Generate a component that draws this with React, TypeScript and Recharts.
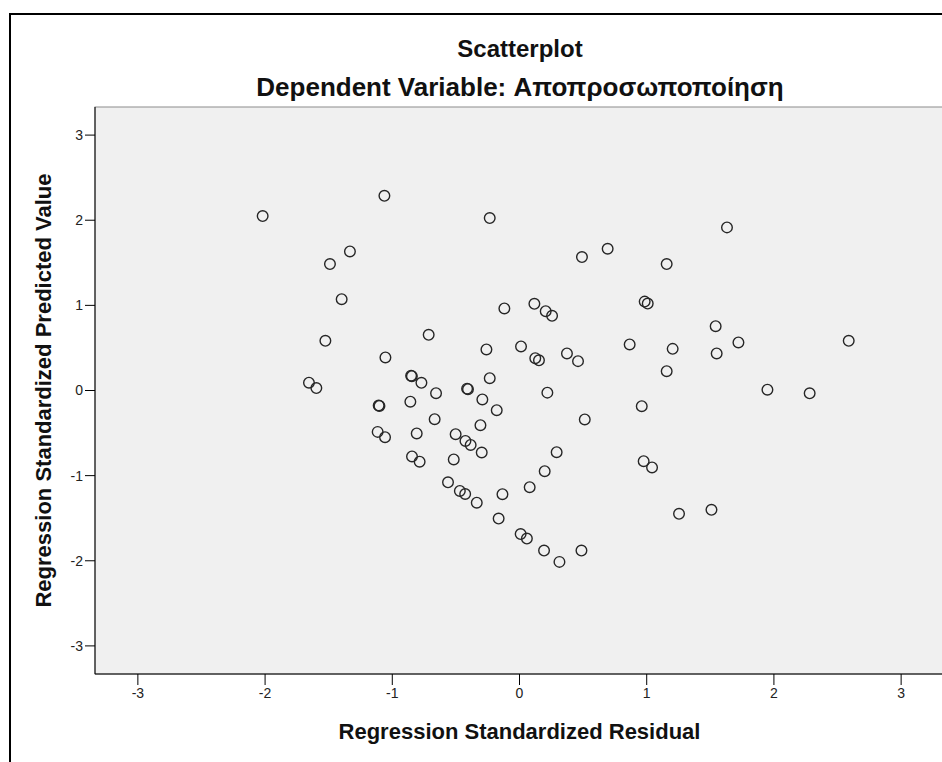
import { ScatterChart, Scatter, XAxis, YAxis } from "recharts";

// Regression standardized residual (x) / standardized predicted value (y)
const residuals = [
    -2.019, -1.062, -0.234, -1.333, -1.49, -1.398, -0.119, 0.117, -0.714, -1.526,
    -0.26, 0.012, -1.054, 0.124, 0.153, -0.852, -0.846, -0.771, -0.656, -0.412,
    -0.405, -0.234, -0.292, -0.179, -1.655, -1.597, -1.107, -1.101, -0.858, -0.667,
    -0.307, -1.115, -1.057, -0.808, -0.502, -0.425, -0.384, -0.297, -0.845, -0.785,
    -0.517, -0.562, -0.469, -0.427, -0.336, -0.134, 0.08, 0.198, 0.292, -0.164,
    0.009, 0.058, 0.193, 0.314, 0.487, 0.513, 0.219, 1.631, 0.693, 0.491,
    1.157, 0.206, 0.256, 0.984, 1.008, 1.542, 1.721, 2.588, 0.373, 0.46,
    0.866, 1.204, 1.55, 1.157, 1.949, 2.281, 0.961, 0.976, 1.042, 1.254,
    1.509,
];

const predicted = [
    2.049, 2.287, 2.025, 1.634, 1.485, 1.073, 0.964, 1.018, 0.654, 0.583,
    0.482, 0.518, 0.388, 0.38, 0.355, 0.174, 0.168, 0.09, -0.031, 0.022,
    0.015, 0.145, -0.105, -0.231, 0.092, 0.028, -0.176, -0.181, -0.131, -0.337,
    -0.407, -0.486, -0.548, -0.504, -0.513, -0.592, -0.639, -0.728, -0.774, -0.836,
    -0.81, -1.079, -1.18, -1.216, -1.318, -1.218, -1.136, -0.948, -0.724, -1.504,
    -1.686, -1.739, -1.88, -2.013, -1.88, -0.34, -0.025, 1.916, 1.665, 1.567,
    1.485, 0.932, 0.877, 1.044, 1.021, 0.756, 0.565, 0.583, 0.435, 0.345,
    0.541, 0.489, 0.435, 0.227, 0.01, -0.033, -0.184, -0.83, -0.904, -1.449,
    -1.402,
];

const xTicks = [-3, -2, -1, 0, 1, 2, 3];
const yTicks = [-3, -2, -1, 0, 1, 2, 3];

const points = residuals.map((x, i) => ({ x, y: predicted[i] }));

const font = "'Liberation Sans', Arial, sans-serif";

const Ring = (props: any) => {
    const { cx, cy } = props;
    if (cx == null || cy == null) return null;
    return (
        <circle
            cx={cx}
            cy={cy}
            r={5.3}
            fill="none"
            stroke="#262626"
            strokeWidth={1.4}
        />
    );
};

const titleStyle = {
    position: "absolute" as const,
    left: 0,
    width: 1040,
    textAlign: "center" as const,
    fontWeight: "bold",
    color: "#111",
    lineHeight: "30px",
};

const App = () => {
    return (
        <div
            style={{
                position: "absolute",
                left: 0,
                top: 0,
                width: 942,
                height: 762,
                overflow: "hidden",
                background: "#fff",
                fontFamily: font,
            }}
        >
            <div
                style={{
                    position: "absolute",
                    left: 9,
                    top: 13,
                    width: 1000,
                    height: 800,
                    border: "2px solid #000",
                }}
            />
            <div style={{ ...titleStyle, top: 34, fontSize: 24 }}>
                Scatterplot
            </div>
            <div style={{ ...titleStyle, top: 72, fontSize: 26 }}>
                Dependent Variable: Αποπροσωποποίηση
            </div>

            <div style={{ position: "absolute", left: 0, top: 0 }}>
                <ScatterChart
                    width={960}
                    height={762}
                    margin={{ top: 107, right: 16, left: 0, bottom: 58 }}
                >
                    <rect
                        x={95}
                        y={107}
                        width={849}
                        height={567}
                        fill="#f0f0f0"
                        stroke="#8c8c8c"
                    />
                    <XAxis
                        type="number"
                        dataKey="x"
                        domain={[-3.337, 3.337]}
                        ticks={xTicks}
                        height={30}
                        tickSize={11}
                        tickMargin={3}
                        stroke="#000"
                        tick={{ fill: "#222", fontSize: 14, fontFamily: font }}
                        label={{
                            value: "Regression Standardized Residual",
                            position: "bottom",
                            offset: 19,
                            style: {
                                fontWeight: "bold",
                                fontSize: 22,
                                fill: "#111",
                                fontFamily: font,
                            },
                        }}
                    />
                    <YAxis
                        type="number"
                        dataKey="y"
                        domain={[-3.33, 3.33]}
                        ticks={yTicks}
                        width={95}
                        tickSize={10}
                        stroke="#000"
                        tick={{ fill: "#222", fontSize: 14, fontFamily: font }}
                        label={{
                            value: "Regression Standardized Predicted Value",
                            angle: -90,
                            position: "insideLeft",
                            offset: 43,
                            style: {
                                textAnchor: "middle",
                                fontWeight: "bold",
                                fontSize: 22,
                                fill: "#111",
                                fontFamily: font,
                            },
                        }}
                    />
                    <Scatter
                        data={points}
                        shape={Ring}
                        isAnimationActive={false}
                    />
                </ScatterChart>
            </div>
        </div>
    );
};

export default App;
